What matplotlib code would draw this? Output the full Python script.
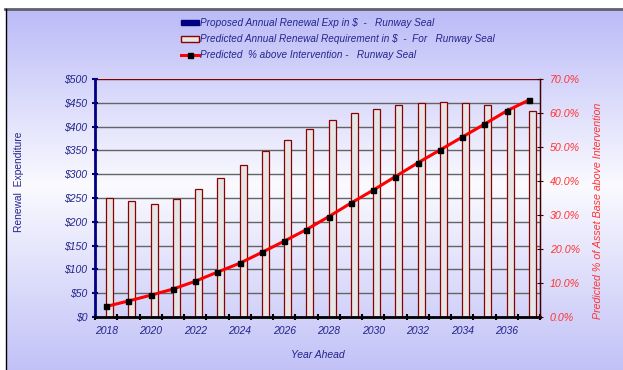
import matplotlib
matplotlib.use("Agg")
import matplotlib.pyplot as plt
import numpy as np
from matplotlib.lines import Line2D
from matplotlib.patches import Patch, Rectangle

years = list(range(2018, 2038))
proposed = [0] * 20
predicted_req = [250, 243, 238, 247, 269, 291, 320, 349, 372, 395,
                 413, 428, 438, 446, 450, 451, 450, 445, 439, 433]
pct_above = [3.1, 4.7, 6.4, 8.2, 10.5, 13.2, 15.8, 19.0, 22.3, 25.7,
             29.5, 33.5, 37.3, 41.3, 45.3, 49.1, 52.9, 56.7, 60.6, 63.8]
y_ticks = [0, 50, 100, 150, 200, 250, 300, 350, 400, 450, 500]
y_ticklabels = ["$" + str(v) for v in y_ticks]
pct_ticks = [0, 10, 20, 30, 40, 50, 60, 70]
pct_ticklabels = [f"{v:.1f}%" for v in pct_ticks]

plt.rcParams['font.family'] = ['Liberation Sans', 'DejaVu Sans']
navy = '#24248c'
red_txt = '#ff3333'

fig = plt.figure(figsize=(6.23, 3.70), dpi=100)

# background gradient
bg = fig.add_axes([0, 0, 1, 1], zorder=-10)
bg.set_axis_off()
ys = np.linspace(0, 1, 256)
top = np.array([0.72, 0.72, 0.97])
mid = np.array([0.98, 0.98, 1.0])
bot = np.array([0.76, 0.76, 0.97])
cols = []
for t in ys:
    if t < 0.5:
        c = top + (mid - top) * (t / 0.5)
    else:
        c = mid + (bot - mid) * ((t - 0.5) / 0.5)
    cols.append(c)
grad = np.array(cols)[:, None, :]
bg.imshow(grad, aspect='auto', extent=[0, 1, 0, 1], origin='upper')
bg.set_xlim(0, 1); bg.set_ylim(0, 1)
bg.add_patch(Rectangle((0, 1 - 8/370), 1, 8/370, color='white', zorder=2))
bg.add_patch(Rectangle((0, 0), 5/623, 1, color='white', zorder=2))
bg.plot([5/623, 1], [1 - 9/370, 1 - 9/370], color='#606070', lw=2, zorder=3)
bg.plot([5.5/623, 5.5/623], [0, 1 - 9/370], color='black', lw=1, zorder=3)

ax = fig.add_axes([95/623, 1 - 317/370, 445/623, 238/370])
ax.patch.set_alpha(0)
x = np.arange(len(years))
w = 0.31
ax.bar(x - w/2, proposed, width=w, color='#000080', zorder=2)
ax.bar(x + w/2, predicted_req, width=w, facecolor='#e6e6e6',
       edgecolor='#8b0000', linewidth=0.9, zorder=2)
ax.set_xlim(-0.5, len(years) - 0.5)
ax.set_ylim(0, 500)
ax.set_yticks(y_ticks)
ax.set_yticklabels(y_ticklabels, color=navy, style='italic', fontsize=7.5)
for v in y_ticks[1:-1]:
    ax.axhline(v, color='#646464', lw=1.0, zorder=1)
ax.axhline(500, color='#800000', lw=1.0, zorder=1)

ax.set_xticks(np.arange(-0.5, len(years), 1.0))
ax.set_xticklabels([])
ax.set_xticks(x[::2], minor=True)
ax.set_xticklabels([str(y) for y in years[::2]], minor=True,
                   color=navy, style='italic', fontsize=7.5)
ax.tick_params(axis='x', which='minor', length=0, pad=6.5)
ax.tick_params(axis='x', which='major', direction='inout', length=5, width=1.5, color='black')
ax.tick_params(axis='y', direction='inout', length=5, width=1.5, color='#000080', pad=3)

ax.spines['top'].set_visible(False)
ax.spines['left'].set_color('#000080')
ax.spines['left'].set_linewidth(2)
ax.spines['bottom'].set_color('black')
ax.spines['bottom'].set_linewidth(2)
ax.spines['right'].set_color('#400000')
ax.spines['right'].set_linewidth(1)
ax.spines['left'].set_zorder(5)
ax.spines['bottom'].set_zorder(5)

ax2 = ax.twinx()
ax2.plot(x, pct_above, color='#ff0000', lw=2.2, marker='s', markersize=3.6,
         markerfacecolor='black', markeredgecolor='black', zorder=5)
ax2.set_ylim(0, 70)
ax2.set_xlim(-0.5, len(years) - 0.5)
ax2.set_yticks(pct_ticks)
ax2.set_yticklabels(pct_ticklabels, color=red_txt, style='italic', fontsize=7.7)
ax2.tick_params(axis='y', direction='inout', length=4, color='#400000', pad=5)
for s in ['top', 'left', 'bottom']:
    ax2.spines[s].set_visible(False)
ax2.spines['right'].set_color('#400000')

fig.text(19/623, 1 - 182/370, "Renewal  Expenditure", rotation=90, ha='center',
         va='center', color=navy, fontsize=7.4)
fig.text(598/623, 1 - 211/370, "Predicted % of Asset Base above Intervention",
         rotation=90, ha='center', va='center', color=red_txt, fontsize=7.7,
         style='italic')
fig.text(318/623, 1 - 355/370, "Year Ahead", ha='center', va='center',
         color=navy, fontsize=7.5, style='italic')

handles = [Patch(facecolor='#000080', edgecolor='#000080'),
           Patch(facecolor='#e6e6e6', edgecolor='#8b0000'),
           Line2D([0], [0], color='#ff0000', lw=2.2, marker='s', markersize=3.6,
                  markerfacecolor='black', markeredgecolor='black')]
labels = ["Proposed Annual Renewal Exp in $  -   Runway Seal",
          "Predicted Annual Renewal Requirement in $  -  For   Runway Seal",
          "Predicted  % above Intervention -   Runway Seal"]
leg = fig.legend(handles, labels, loc='upper left',
                 bbox_to_anchor=(172/623, 1 - 9/370), frameon=False,
                 prop={'size': 7.2, 'style': 'italic'}, labelspacing=0.62,
                 handlelength=1.8, handletextpad=0.15, handleheight=0.5)
for t in leg.get_texts():
    t.set_color(navy)

fig.savefig("out.png", dpi=100)
